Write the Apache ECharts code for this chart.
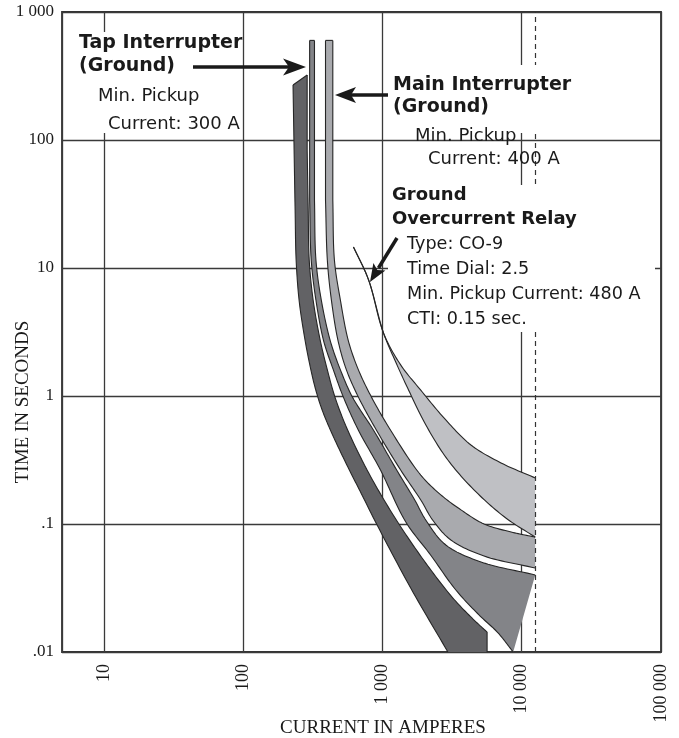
<!DOCTYPE html>
<html><head><meta charset="utf-8">
<script src="https://cdn.jsdelivr.net/npm/echarts@6/dist/echarts.min.js"></script>
<style>html,body{margin:0;padding:0;background:#fff}#c{width:679px;height:738px}</style>
</head><body><div id="c"></div>
<script>
// Axis ticks
const xTickValues = [10, 100, 1000, 10000, 100000];
const xTickLabels = ['10', '100', '1 000', '10 000', '100 000'];
const yTickValues = [0.01, 0.1, 1, 10, 100, 1000];
const yTickLabels = ['.01', '.1', '1', '10', '100', '1 000'];

// Tap interrupter - minimum melt band (current A, time s)
const tapMeltLeft = [[228,269],[232,84],[236,28],[240,11.5],[252,5.6],[274,3.0],[298,1.84],[329,1.155],[369,0.777],[429,0.523],[542,0.305],[719,0.1655],[892,0.1037],[1595,0.0316],[2950,0.01]];
const tapMeltRight = [[288,322],[288,84],[293,28],[298,11.5],[318,5.6],[358,2.7],[402,1.6],[451,1.018],[524,0.65],[640,0.40],[848,0.221],[1285,0.1037],[2047,0.0495],[3204,0.0264],[4468,0.0181],[5640,0.0143],[5640,0.01]];
// Tap interrupter - total clearing band
const tapClearLeft = [[300,600],[300,34],[308,11.5],[333,5.6],[378,2.7],[444,1.6],[524,0.98],[672,0.54],[968,0.264],[1468,0.104],[2223,0.057],[3365,0.0305],[4930,0.0195],[6760,0.0141],[8680,0.01]];
const tapClearRight = [[325,600],[325,34],[333,11.5],[364,5.6],[422,2.7],[499,1.6],[609,0.98],[863,0.54],[1265,0.264],[1705,0.154],[2050,0.107],[2853,0.0685],[5100,0.0505],[12500,0.040]];
// Main interrupter band
const mainLeft = [[390,600],[390,34],[402,11.5],[430,5.6],[480,2.7],[551,1.6],[672,0.98],[906,0.54],[1351,0.264],[1884,0.154],[2299,0.107],[3100,0.075],[5364,0.0562],[12500,0.0453]];
const mainRight = [[440,600],[440,34],[452,11.5],[499,5.6],[569,2.7],[672,1.6],[834,0.98],[1144,0.54],[1884,0.241],[2624,0.169],[3660,0.129],[5364,0.1],[8395,0.0866],[12500,0.079]];
// Ground overcurrent relay band
const relayUpper = [[619,14.6],[794,8.1],[1018,3.1],[1351,1.75],[1884,1.11],[2850,0.65],[4320,0.414],[7100,0.30],[12500,0.229]];
const relayLower = [[619,14.6],[794,8.1],[1018,3.1],[1243,1.85],[1542,1.11],[2050,0.593],[2950,0.316],[4700,0.178],[7730,0.111],[12500,0.079]];
// Maximum fault current (dashed)
const maxFaultCurrent = [12500];

const chart = echarts.init(document.getElementById('c'), null, {renderer: 'canvas'});
const EDGE = '#262626';

// centripetal Catmull-Rom through pixel points; straight leading/trailing vertical runs kept straight
function splineSeg(pts, seg) {
  if (pts.length < 3) return pts.slice();
  const out = [];
  const d = (a, b) => Math.max(Math.pow(Math.hypot(b[0] - a[0], b[1] - a[1]), 0.5), 1e-4);
  const mix = (a, b, wa, wb) => [a[0] * wa + b[0] * wb, a[1] * wa + b[1] * wb];
  for (let i = 0; i < pts.length - 1; i++) {
    const p1 = pts[i], p2 = pts[i + 1];
    const p0 = pts[i - 1] || [2 * p1[0] - p2[0], 2 * p1[1] - p2[1]];
    const p3 = pts[i + 2] || [2 * p2[0] - p1[0], 2 * p2[1] - p1[1]];
    const t0 = 0, t1 = t0 + d(p0, p1), t2 = t1 + d(p1, p2), t3 = t2 + d(p2, p3);
    for (let j = 0; j < seg; j++) {
      const t = t1 + (t2 - t1) * j / seg;
      const A1 = mix(p0, p1, (t1 - t) / (t1 - t0), (t - t0) / (t1 - t0));
      const A2 = mix(p1, p2, (t2 - t) / (t2 - t1), (t - t1) / (t2 - t1));
      const A3 = mix(p2, p3, (t3 - t) / (t3 - t2), (t - t2) / (t3 - t2));
      const B1 = mix(A1, A2, (t2 - t) / (t2 - t0), (t - t0) / (t2 - t0));
      const B2 = mix(A2, A3, (t3 - t) / (t3 - t1), (t - t1) / (t3 - t1));
      out.push(mix(B1, B2, (t2 - t) / (t2 - t1), (t - t1) / (t2 - t1)));
    }
  }
  out.push(pts[pts.length - 1]);
  return out;
}
function smoothEdge(pts) {
  const n = pts.length;
  let s = 0, e = n - 1;
  while (s < n - 2 && Math.abs(pts[s][0] - pts[s + 1][0]) < 0.5) s++;
  while (e > s + 1 && Math.abs(pts[e][0] - pts[e - 1][0]) < 0.5) e--;
  const head = pts.slice(0, s);
  const mid = splineSeg(pts.slice(s, e + 1), 14);
  const tail = pts.slice(e + 1);
  return head.concat(mid, tail);
}

function bandSeries(name, edgeA, edgeB, fill) {
  const poly = edgeA.concat(edgeB.slice().reverse());
  return {
    type: 'custom', name: name, coordinateSystem: 'cartesian2d', data: poly, silent: true, z: 3,
    encode: {x: 0, y: 1},
    renderItem: function (params, api) {
      if (params.dataIndex !== 0) return null;
      const a = smoothEdge(edgeA.map(p => api.coord(p)));
      const b = smoothEdge(edgeB.map(p => api.coord(p)));
      return {type: 'group', children: [
        {type: 'polygon', shape: {points: a.concat(b.slice().reverse())}, style: {fill: fill, stroke: null}},
        {type: 'polyline', shape: {points: a}, style: {stroke: EDGE, lineWidth: 1.1, fill: null}},
        {type: 'polyline', shape: {points: b}, style: {stroke: EDGE, lineWidth: 1.1, fill: null}},
        {type: 'line', shape: {x1: a[0][0], y1: a[0][1], x2: b[0][0], y2: b[0][1]}, style: {stroke: EDGE, lineWidth: 1.1}}
      ]};
    }
  };
}

function labelFor(values, labels, v) {
  for (let i = 0; i < values.length; i++) {
    if (Math.abs(Math.log10(v) - Math.log10(values[i])) < 1e-6) return labels[i];
  }
  return '';
}

const SANS = '"DejaVu Sans", sans-serif';
const SERIF = '"Liberation Serif", "Times New Roman", serif';
function txt(x, y, s, bold, size) {
  return {type: 'text', x: x, y: y, z: 20, silent: true,
    style: {text: s, fill: '#1a1a1a', fontFamily: SANS, fontWeight: bold ? 'bold' : 'normal', fontSize: size || 18, align: 'left', verticalAlign: 'top'}};
}
function box(x, y, w, h) {
  return {type: 'rect', z: 15, silent: true, shape: {x: x, y: y, width: w, height: h}, style: {fill: '#fff'}};
}

const option = {
  backgroundColor: '#fff',
  animation: false,
  grid: {left: 62, right: 18, top: 12, bottom: 86, show: true, borderColor: '#333', borderWidth: 1.8, backgroundColor: 'transparent'},
  xAxis: {
    type: 'log', logBase: 10, min: 5, max: 100000,
    axisLine: {show: false}, axisTick: {show: false}, minorTick: {show: false},
    splitLine: {show: true, lineStyle: {color: '#3a3a3a', width: 1.3}},
    axisLabel: {rotate: 90, margin: 12, fontFamily: SERIF, fontSize: 18, color: '#1a1a1a',
      formatter: v => labelFor(xTickValues, xTickLabels, v)}
  },
  yAxis: {
    type: 'log', logBase: 10, min: 0.01, max: 1000,
    axisLine: {show: false}, axisTick: {show: false}, minorTick: {show: false},
    splitLine: {show: true, lineStyle: {color: '#3a3a3a', width: 1.3}},
    axisLabel: {margin: 8, fontFamily: SERIF, fontSize: 17, color: '#1a1a1a',
      formatter: v => labelFor(yTickValues, yTickLabels, v)}
  },
  series: [
    bandSeries('Tap Interrupter min melt', tapMeltLeft, tapMeltRight, '#626265'),
    bandSeries('Tap Interrupter total clearing', tapClearLeft, tapClearRight, '#838488'),
    bandSeries('Main Interrupter', mainLeft, mainRight, '#a9aaae'),
    bandSeries('Ground Overcurrent Relay', relayLower, relayUpper, '#bfc0c4'),
    {type: 'line', data: [], z: 4, markLine: {silent: true, symbol: 'none', label: {show: false},
      lineStyle: {type: [5, 4], color: '#333', width: 1.2},
      data: maxFaultCurrent.map(v => ({xAxis: v}))}}
  ],
  graphic: [
    box(75, 32, 166, 101),
    box(393, 65, 228, 68),
    box(388, 185, 267, 147),
    txt(79, 34, 'Tap Interrupter', true, 19),
    txt(79, 57, '(Ground)', true, 19),
    txt(98, 87, 'Min. Pickup'),
    txt(108, 115, 'Current: 300 A'),
    txt(393, 76, 'Main Interrupter', true, 19),
    txt(393, 98, '(Ground)', true, 19),
    txt(415, 127, 'Min. Pickup'),
    txt(428, 150, 'Current: 400 A'),
    txt(392, 186, 'Ground', true, 18),
    txt(392, 210, 'Overcurrent Relay', true, 18),
    txt(407, 235, 'Type: CO-9', false, 17.6),
    txt(407, 260, 'Time Dial: 2.5', false, 17.6),
    txt(407, 285, 'Min. Pickup Current: 480 A', false, 17.6),
    txt(407, 310, 'CTI: 0.15 sec.', false, 17.6),
    // arrows
    {type: 'polyline', z: 21, silent: true, shape: {points: [[193, 67], [291, 67]]}, style: {stroke: '#1a1a1a', lineWidth: 3.5}},
    {type: 'polygon', z: 21, silent: true, shape: {points: [[306, 67], [283, 58.5], [289, 67], [283, 75.5]]}, style: {fill: '#1a1a1a'}},
    {type: 'polyline', z: 21, silent: true, shape: {points: [[388, 95], [350, 95]]}, style: {stroke: '#1a1a1a', lineWidth: 3.5}},
    {type: 'polygon', z: 21, silent: true, shape: {points: [[335, 95], [356, 87], [351, 95], [356, 103]]}, style: {fill: '#1a1a1a'}},
    {type: 'polyline', z: 21, silent: true, shape: {points: [[397, 238], [378.5, 268]]}, style: {stroke: '#1a1a1a', lineWidth: 3.5}},
    {type: 'polygon', z: 21, silent: true, shape: {points: [[370, 282], [385.4, 270.4], [377.3, 270.1], [373.4, 263.0]]}, style: {fill: '#1a1a1a'}},
    // axis names
    {type: 'text', x: 23, y: 402, rotation: Math.PI / 2, z: 20, silent: true,
      style: {text: 'TIME IN SECONDS', fill: '#1a1a1a', fontFamily: SERIF, fontSize: 19, align: 'center', verticalAlign: 'middle'}},
    {type: 'text', x: 383, y: 728, z: 20, silent: true,
      style: {text: 'CURRENT IN AMPERES', fill: '#1a1a1a', fontFamily: SERIF, fontSize: 19, align: 'center', verticalAlign: 'middle'}}
  ]
};
chart.setOption(option);
</script></body></html>
